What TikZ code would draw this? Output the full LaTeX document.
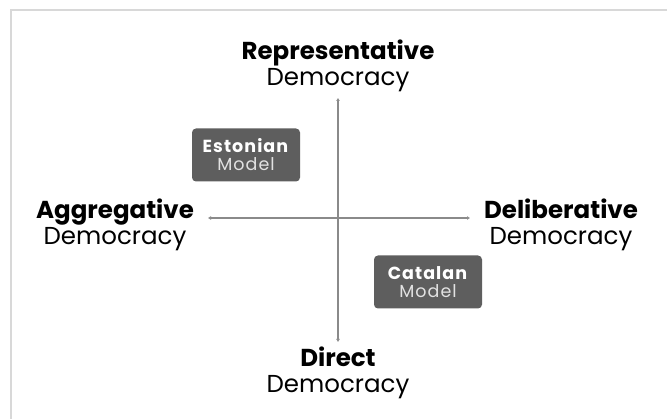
\documentclass[tikz,border=0pt]{standalone}
\usepackage{fontspec}
\setmainfont{Poppins}
\usetikzlibrary{arrows.meta}
\definecolor{framegray}{HTML}{D8D8D8}
\definecolor{axisgray}{HTML}{8A8A8A}
\definecolor{boxgray}{HTML}{5E5E5E}
\definecolor{modelgray}{HTML}{E2E2E2}
\tikzset{
  pole/.style={align=center, inner sep=0pt, text=black, font=\fontsize{24.5}{26}\selectfont},
  modelbox/.style={fill=boxgray, rounded corners=4pt, minimum width=108pt, minimum height=53pt, inner sep=0pt, align=center, text=white, font=\fontsize{17.5}{18}\selectfont\addfontfeatures{LetterSpace=6}},
  axis/.style={draw=axisgray, line width=2pt, {Latex[length=3pt,width=4pt]}-{Latex[length=3pt,width=4pt]}}
}
\begin{document}
\begin{tikzpicture}[x=1pt,y=-1pt]
\useasboundingbox (0,0) rectangle (667,419);
\fill[white] (0,0) rectangle (667,419);
\draw[framegray, line width=1.5pt] (11,419) -- (11,10) -- (667,10);
\node[pole] (rep) at (338,66) {\textbf{Representative}\\Democracy};
\node[pole] (agg) at (115,225) {\textbf{Aggregative}\\Democracy};
\node[pole] (del) at (561,225) {\textbf{Deliberative}\\Democracy};
\node[pole] (dir) at (338,373) {\textbf{Direct}\\Democracy};
\node[modelbox] (est) at (246,155) {\textbf{Estonian}\\\textcolor{modelgray}{Model}};
\node[modelbox] (cat) at (428,282) {\textbf{Catalan}\\\textcolor{modelgray}{Model}};
\coordinate (top) at (338,98);
\coordinate (bot) at (338,342);
\coordinate (lft) at (208,218);
\coordinate (rgt) at (470,218);
\draw[axis] (top) -- (bot);
\draw[axis] (lft) -- (rgt);
\end{tikzpicture}
\end{document}
